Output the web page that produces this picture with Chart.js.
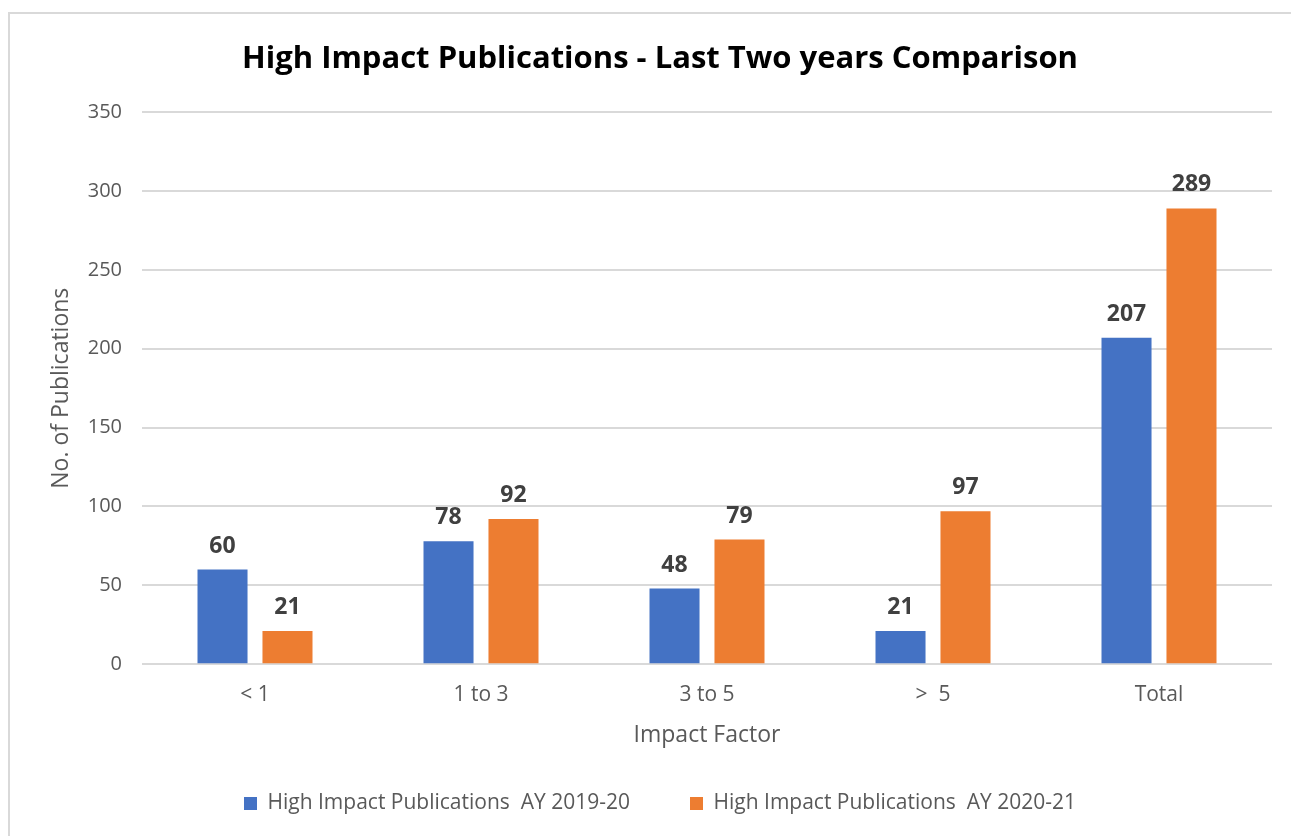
<!DOCTYPE html>
<html>
<head>
<meta charset="utf-8">
<script src="https://cdn.jsdelivr.net/npm/chart.js@4"></script>
<style>
    html, body { margin: 0; padding: 0; background: #fff; overflow: hidden; }
    #frame { position: absolute; left: 8px; top: 12px; width: 1400px; height: 900px; border: 2px solid #d9d9d9; }
    #wrap { position: absolute; left: 0; top: 0; width: 1291px; height: 836px; }
</style>
</head>
<body>
<div id="frame"></div>
<div id="wrap"><canvas id="chart" width="1291" height="836"></canvas></div>
<script>
// ------ Data ------
var categories = ['< 1', '1 to 3', '3 to 5', '>  5', 'Total'];
var ay2019 = [60, 78, 48, 21, 207];
var ay2020 = [21, 92, 79, 97, 289];
var seriesLabels = ['High Impact Publications  AY 2019-20', 'High Impact Publications  AY 2020-21'];
var yTicks = [0, 50, 100, 150, 200, 250, 300, 350];

var FONT = "'Open Sans', 'Noto Sans', sans-serif";
var GREY = '#595959';

// value labels above each bar
var barLabels = {
    id: 'barLabels',
    afterDatasetsDraw: function(chart) {
        var ctx = chart.ctx;
        ctx.save();
        ctx.font = 'bold 23px ' + FONT;
        ctx.fillStyle = '#404040';
        ctx.textAlign = 'center';
        ctx.textBaseline = 'bottom';
        chart.data.datasets.forEach(function(ds, i) {
            chart.getDatasetMeta(i).data.forEach(function(bar, j) {
                ctx.fillText(ds.data[j], bar.x, bar.y - 12);
            });
        });
        ctx.restore();
    }
};

new Chart(document.getElementById('chart'), {
    type: 'bar',
    data: {
        labels: categories,
        datasets: [
            { label: seriesLabels[0], data: ay2019, backgroundColor: '#4472C4', borderWidth: 0 },
            { label: seriesLabels[1], data: ay2020, backgroundColor: '#ED7D31', borderWidth: 0 }
        ]
    },
    options: {
        responsive: false,
        animation: false,
        categoryPercentage: 0.575,
        barPercentage: 0.77,
        layout: { padding: { left: 48, right: 19, top: 0, bottom: 12 } },
        scales: {
            x: {
                grid: { display: false },
                border: { display: false },
                ticks: { color: GREY, font: { family: FONT, size: 21 }, padding: 10 },
                title: { display: true, text: 'Impact Factor', color: GREY, font: { family: FONT, size: 23 }, padding: { top: 4, bottom: -16 } }
            },
            y: {
                min: 0, max: 350,
                afterBuildTicks: function(scale) {
                    scale.ticks = yTicks.map(function(v) { return { value: v }; });
                },
                afterFit: function(scale) { scale.width = 94; },
                grid: { color: '#d9d9d9', lineWidth: 2, drawTicks: false },
                border: { display: false },
                ticks: { color: GREY, font: { family: FONT, size: 20 }, padding: 20 },
                title: { display: true, text: 'No. of Publications', color: GREY, font: { family: FONT, size: 23 }, padding: { top: 0, bottom: 0 } }
            }
        },
        plugins: {
            title: {
                display: true,
                text: 'High Impact Publications - Last Two years Comparison',
                color: '#000',
                font: { family: FONT, size: 31, weight: 'bold' },
                padding: { top: 41, bottom: 34 }
            },
            legend: {
                position: 'bottom',
                labels: {
                    color: GREY,
                    font: { family: FONT, size: 21 },
                    boxWidth: 13, boxHeight: 13,
                    padding: 60
                }
            },
            tooltip: { enabled: false }
        }
    },
    plugins: [barLabels]
});
</script>
</body>
</html>
